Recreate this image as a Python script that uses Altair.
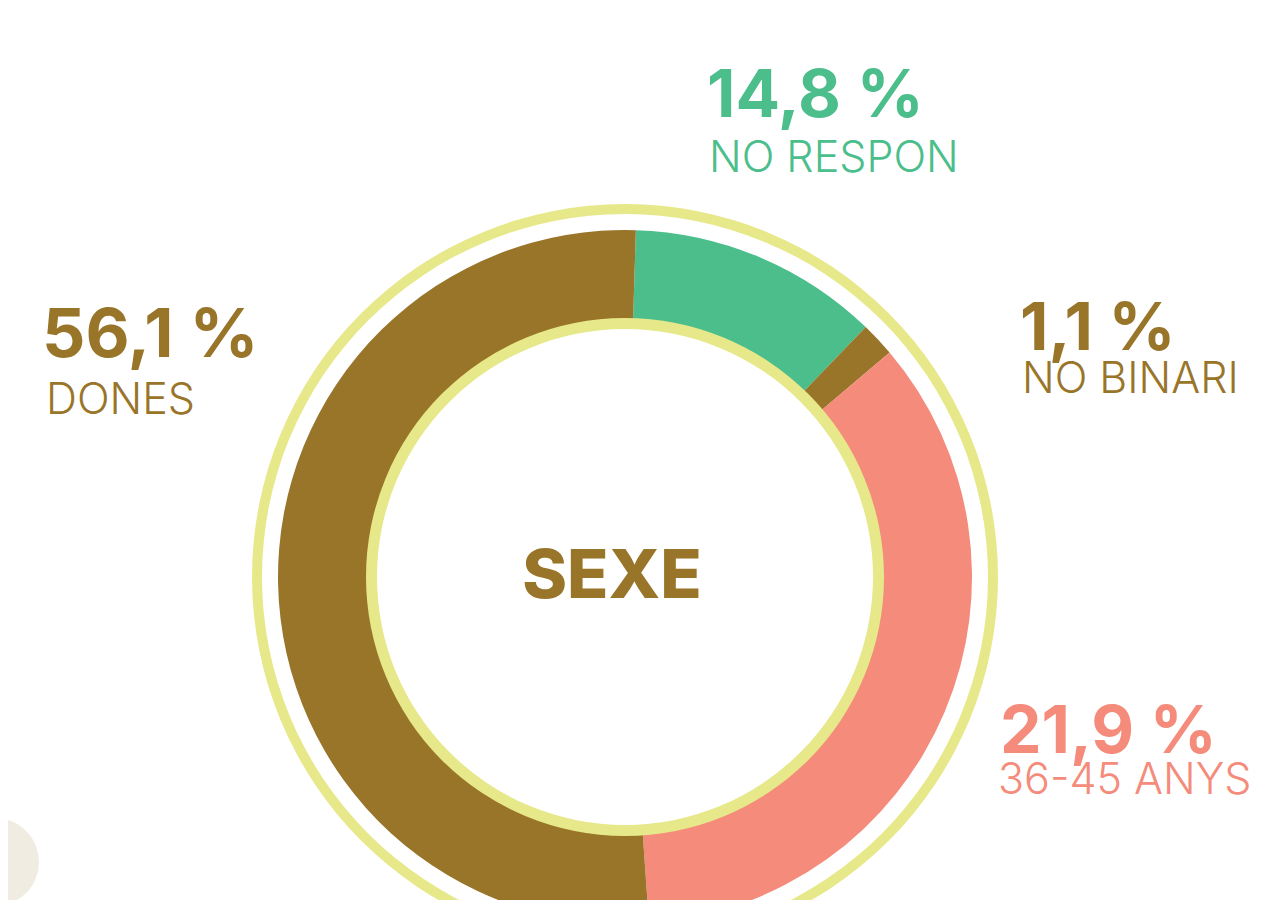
import altair as alt
import pandas as pd
import math

# Segment data (clockwise from the top)
segments = ["NO RESPON", "NO BINARI", "36-45 ANYS", "DONES"]
shares = [11.7, 1.6, 35.1, 51.6]
seg_colors = ["#4BBE8C", "#99752A", "#F48B7B", "#99752A"]

pct_labels = ["14,8 %", "1,1 %", "21,9 %", "56,1 %"]
cat_labels = ["NO RESPON", "NO BINARI", "36-45 ANYS", "DONES"]
center_title = "SEXE"

BROWN = "#99752A"
RING = "#E7E88A"
BEIGE = "#F0ECE2"
FONT = "Inter"

W, H = 1251, 892
CX, CY = 625 - 8, 577 - 8
start = math.radians(1.8)

df = pd.DataFrame({"seg": segments, "share": shares, "idx": list(range(len(segments)))})

donut = alt.Chart(df).mark_arc(radius=347, radius2=250, stroke=None).encode(
    theta=alt.Theta("share:Q", stack=True, scale=alt.Scale(range=[start, start + 2 * math.pi])),
    order=alt.Order("idx:Q"),
    color=alt.Color("seg:N", scale=alt.Scale(domain=segments, range=seg_colors), legend=None),
    x=alt.value(CX),
    y=alt.value(CY),
)

ring_df = pd.DataFrame({"k": [0]})

def ring(r_in, r_out, color, cx=CX, cy=CY):
    return alt.Chart(ring_df).mark_arc(radius=r_out, radius2=r_in, color=color).encode(
        theta=alt.value(0), theta2=alt.value(2 * math.pi), x=alt.value(cx), y=alt.value(cy)
    )

outer_ring = ring(363, 373, RING)
inner_ring = ring(248, 259, RING)
beige = ring(0, 44, BEIGE, cx=-5 - 8, cy=862 - 8)

def label(text, x, y, size, weight, color, align="left"):
    return alt.Chart(pd.DataFrame({"t": [text]})).mark_text(
        align=align, baseline="alphabetic", font=FONT, fontSize=size, fontWeight=weight, color=color
    ).encode(text="t:N", x=alt.value(x - 8), y=alt.value(y - 8))

GREEN, SALMON = seg_colors[0], seg_colors[2]
texts = [
    label(pct_labels[0], 707, 117, 66, 700, GREEN),
    label(cat_labels[0], 709, 172, 43, 300, GREEN),
    label(pct_labels[1], 1020, 350, 66, 700, BROWN),
    label(cat_labels[1], 1022, 393, 43, 300, BROWN),
    label(pct_labels[2], 1000, 753, 66, 700, SALMON),
    label(cat_labels[2], 998, 794, 43, 300, SALMON),
    label(pct_labels[3], 42, 357, 68, 700, BROWN),
    label(cat_labels[3], 46, 414, 43, 300, BROWN),
    label(center_title, 612, 598, 68, 800, BROWN, align="center"),
]

chart = alt.layer(beige, outer_ring, donut, inner_ring, *texts).properties(
    width=W, height=H, padding=0, autosize=alt.AutoSizeParams(type="none")
).configure_view(stroke=None)

chart.save("out.html", embed_options={"renderer": "svg", "actions": False})
